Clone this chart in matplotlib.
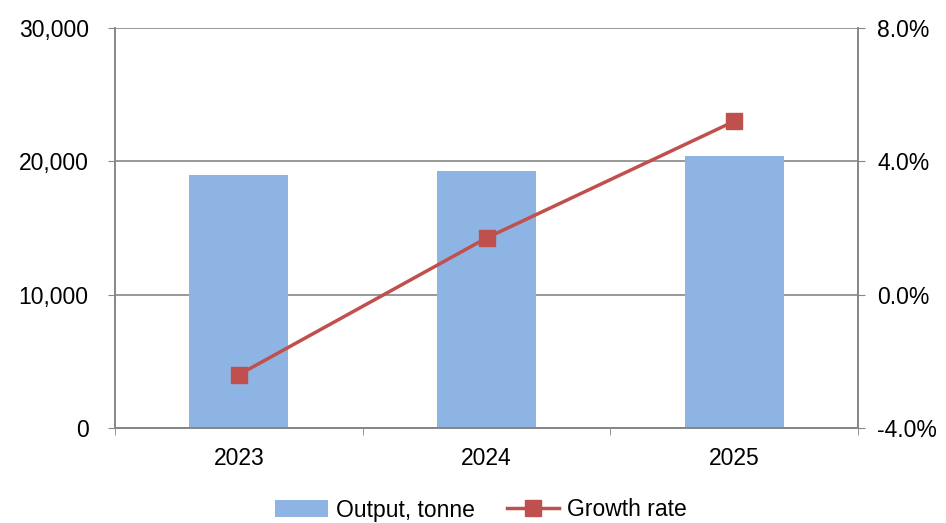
import matplotlib
matplotlib.use("Agg")
import matplotlib.pyplot as plt
from matplotlib.ticker import FuncFormatter, FixedLocator

years = ["2023", "2024", "2025"]
output = [19000, 19300, 20400]
growth = [-2.4, 1.7, 5.2]
left_ticks = [0, 10000, 20000, 30000]
right_ticks = [-4.0, 0.0, 4.0, 8.0]

plt.rcParams['font.family'] = ['Liberation Sans', 'DejaVu Sans']
FS = 16.5

fig = plt.figure(figsize=(9.46, 5.23), dpi=100)
ax = fig.add_axes([115/946, 1-428/523, (858-115)/946, (428-28)/523])
ax2 = ax.twinx()

x = list(range(len(years)))
ax.bar(x, output, width=0.4, color="#8EB4E3", zorder=2, label="Output, tonne")
ax.set_xlim(-0.5, len(years) - 0.5)
ax.set_ylim(0, 30000)
ax.set_yticks(left_ticks)
ax.yaxis.set_major_formatter(FuncFormatter(lambda v, p: f"{int(v):,}"))
ax.grid(axis='y', color="#868686", linewidth=1.2, zorder=0)
ax.set_axisbelow(True)

ax.set_xticks(x)
ax.set_xticklabels(years)
ax.xaxis.set_minor_locator(FixedLocator([-0.5, 0.5, 1.5, 2.5]))
ax.tick_params(axis='x', which='major', length=0, pad=14, labelsize=FS)
ax.tick_params(axis='x', which='minor', length=5, color="#868686", direction='out')
ax.tick_params(axis='y', length=5, color="#868686", labelsize=FS, pad=14)

ax2.plot(x, growth, color="#C0504D", linewidth=2.5, marker='s', markersize=11,
         markerfacecolor="#C0504D", markeredgecolor="#C0504D", label="Growth rate", zorder=3)
ax2.set_ylim(-4, 8)
ax2.set_yticks(right_ticks)
ax2.yaxis.set_major_formatter(FuncFormatter(lambda v, p: f"{v:.1f}%"))
ax2.tick_params(axis='y', length=5, color="#868686", labelsize=FS, pad=9)

for a in (ax, ax2):
    for s in a.spines.values():
        s.set_color("#868686")
        s.set_linewidth(1.2)
ax.spines['top'].set_visible(False)
ax2.spines['top'].set_visible(False)

h1, l1 = ax.get_legend_handles_labels()
h2, l2 = ax2.get_legend_handles_labels()
fig.legend(h1 + h2, l1 + l2, loc='center', bbox_to_anchor=(481/946, 1-510/523),
           ncol=2, frameon=False, fontsize=FS, handlelength=2.3, columnspacing=1.4,
           handletextpad=0.35)

fig.savefig("out.png", dpi=100)
